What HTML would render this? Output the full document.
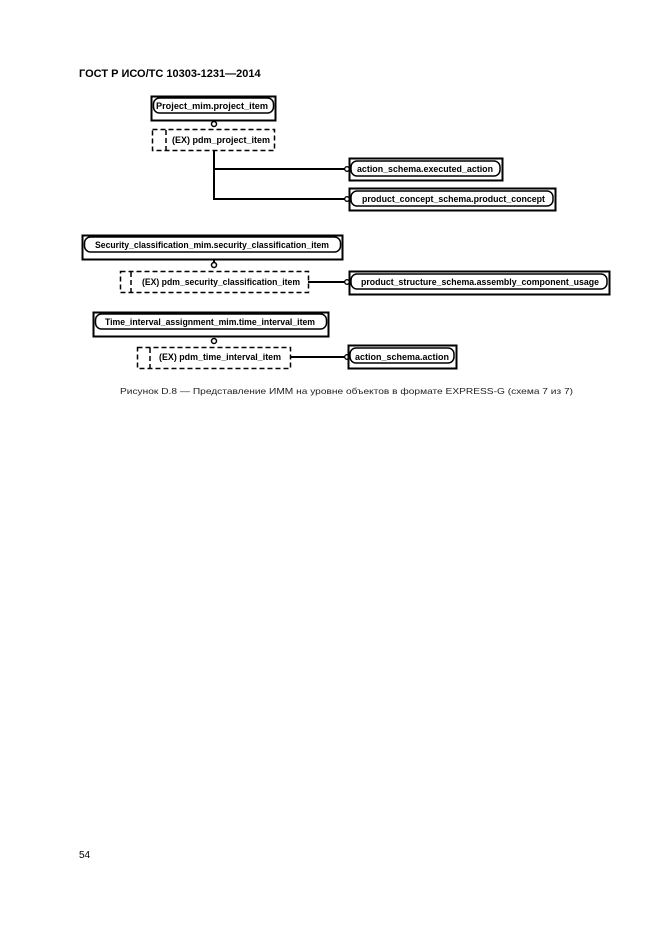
<!DOCTYPE html>
<html><head><meta charset="utf-8"><style>
body{margin:0;background:#fff;}
svg{display:block}
text{font-family:"Liberation Sans",sans-serif;}
</style></head><body>
<svg width="661" height="936" viewBox="0 0 661 936" xmlns="http://www.w3.org/2000/svg">
<rect width="661" height="936" fill="#fff"/>
<text x="79" y="77" font-size="11" font-weight="bold">ГОСТ Р ИСО/ТС 10303-1231—2014</text>
<g fill="none" stroke="#000">
<rect x="151.5" y="96.5" width="124" height="24" stroke-width="2"/>
<rect x="153.5" y="98" width="120" height="15" rx="6" stroke-width="1.5"/>
<circle cx="214" cy="124" r="2.5" stroke-width="1.5"/>
<rect x="152.5" y="129.5" width="122" height="21" stroke-width="1.5" stroke-dasharray="5,3"/>
<line x1="166" y1="130" x2="166" y2="150" stroke-width="1.5" stroke-dasharray="5,3"/>
<polyline points="214,151 214,199 345,199" stroke-width="2"/>
<line x1="214" y1="169" x2="345" y2="169" stroke-width="2"/>
<circle cx="347" cy="169" r="2.3" stroke-width="1.3"/>
<circle cx="347" cy="199" r="2.3" stroke-width="1.3"/>
<rect x="349.5" y="158.5" width="153" height="22" stroke-width="2"/>
<rect x="351" y="161" width="149" height="15" rx="6" stroke-width="1.5"/>
<rect x="349.5" y="188.5" width="206" height="22" stroke-width="2"/>
<rect x="351" y="191" width="202" height="15" rx="6" stroke-width="1.5"/>
<rect x="82.5" y="235.5" width="260" height="24" stroke-width="2"/>
<rect x="84.5" y="237" width="256" height="15" rx="6" stroke-width="1.5"/>
<circle cx="214" cy="265" r="2.5" stroke-width="1.5"/>
<line x1="214" y1="259" x2="214" y2="262" stroke-width="2"/>
<rect x="120.5" y="271.5" width="188" height="21" stroke-width="1.5" stroke-dasharray="5,3"/>
<line x1="131" y1="272" x2="131" y2="292" stroke-width="1.5" stroke-dasharray="5,3"/>
<line x1="308" y1="282" x2="345" y2="282" stroke-width="2"/>
<circle cx="347" cy="282" r="2.3" stroke-width="1.3"/>
<rect x="349.5" y="271.5" width="260" height="23" stroke-width="2"/>
<rect x="351" y="274" width="256" height="15" rx="6" stroke-width="1.5"/>
<rect x="93.5" y="312.5" width="235" height="24" stroke-width="2"/>
<rect x="95.5" y="314" width="231" height="15" rx="6" stroke-width="1.5"/>
<circle cx="214" cy="341" r="2.5" stroke-width="1.5"/>
<rect x="137.5" y="347.5" width="153" height="21" stroke-width="1.5" stroke-dasharray="5,3"/>
<line x1="150" y1="348" x2="150" y2="368" stroke-width="1.5" stroke-dasharray="5,3"/>
<line x1="290" y1="357" x2="345" y2="357" stroke-width="2"/>
<circle cx="347" cy="357" r="2.3" stroke-width="1.3"/>
<rect x="348.5" y="345.5" width="108" height="23" stroke-width="2"/>
<rect x="350" y="348" width="104" height="15" rx="6" stroke-width="1.5"/>
</g>
<g font-size="9" font-weight="bold" lengthAdjust="spacingAndGlyphs">
<text x="156" y="109" textLength="112" lengthAdjust="spacingAndGlyphs">Project_mim.project_item</text>
<text x="172" y="143" textLength="98" lengthAdjust="spacingAndGlyphs">(EX) pdm_project_item</text>
<text x="357" y="172" textLength="136" lengthAdjust="spacingAndGlyphs">action_schema.executed_action</text>
<text x="362" y="202" textLength="183" lengthAdjust="spacingAndGlyphs">product_concept_schema.product_concept</text>
<text x="95" y="248" textLength="234" lengthAdjust="spacingAndGlyphs">Security_classification_mim.security_classification_item</text>
<text x="142" y="285" textLength="158" lengthAdjust="spacingAndGlyphs">(EX) pdm_security_classification_item</text>
<text x="361" y="285" textLength="238" lengthAdjust="spacingAndGlyphs">product_structure_schema.assembly_component_usage</text>
<text x="105" y="325" textLength="210" lengthAdjust="spacingAndGlyphs">Time_interval_assignment_mim.time_interval_item</text>
<text x="159" y="360" textLength="122" lengthAdjust="spacingAndGlyphs">(EX) pdm_time_interval_item</text>
<text x="355" y="360" textLength="94" lengthAdjust="spacingAndGlyphs">action_schema.action</text>
</g>
<text x="120" y="394" font-size="8.5" fill="#222" textLength="453" lengthAdjust="spacingAndGlyphs">Рисунок  D.8 — Представление ИММ на уровне объектов в формате EXPRESS-G (схема 7 из 7)</text>
<text x="79" y="858" font-size="10">54</text>
</svg>
</body></html>
